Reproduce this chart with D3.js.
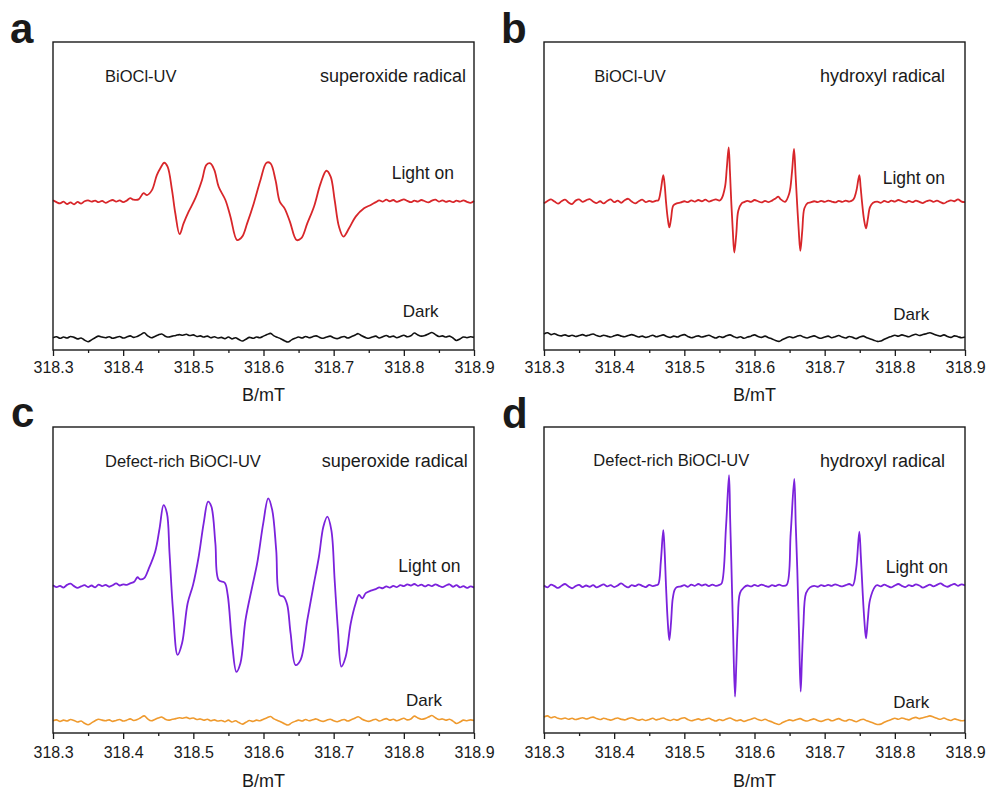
<!DOCTYPE html>
<html><head><meta charset="utf-8">
<script src="https://cdn.jsdelivr.net/npm/d3@7"></script>
<style>
body{margin:0;background:#fff}
svg{display:block}
text{font-family:"Liberation Sans",Arial,Helvetica,sans-serif;fill:#1a1a1a}
</style></head><body>
<svg id="chart" width="992" height="793"></svg>
<script>
// ---------- DATA ----------
const xTicks = [318.3, 318.4, 318.5, 318.6, 318.7, 318.8, 318.9];
const xMinorTicks = [318.35, 318.45, 318.55, 318.65, 318.75, 318.85];
const xLabel = "B/mT";
const panelLetters = ["a", "b", "c", "d"];
const sampleNames = ["BiOCl-UV", "BiOCl-UV", "Defect-rich BiOCl-UV", "Defect-rich BiOCl-UV"];
const radicalNames = ["superoxide radical", "hydroxyl radical", "superoxide radical", "hydroxyl radical"];
const seriesNames = ["Light on", "Dark"];

// magnetic field sampling for the dark traces (mT)
const darkField = [318.300,318.305,318.310,318.315,318.320,318.325,318.330,318.335,318.340,318.345,318.350,318.355,318.360,318.365,318.370,318.375,318.380,318.385,318.390,318.395,
318.400,318.405,318.410,318.415,318.420,318.425,318.430,318.435,318.440,318.445,318.450,318.455,318.460,318.465,318.470,318.475,318.480,318.485,318.490,318.495,
318.500,318.505,318.510,318.515,318.520,318.525,318.530,318.535,318.540,318.545,318.550,318.555,318.560,318.565,318.570,318.575,318.580,318.585,318.590,318.595,
318.600,318.605,318.610,318.615,318.620,318.625,318.630,318.635,318.640,318.645,318.650,318.655,318.660,318.665,318.670,318.675,318.680,318.685,318.690,318.695,
318.700,318.705,318.710,318.715,318.720,318.725,318.730,318.735,318.740,318.745,318.750,318.755,318.760,318.765,318.770,318.775,318.780,318.785,318.790,318.795,
318.800,318.805,318.810,318.815,318.820,318.825,318.830,318.835,318.840,318.845,318.850,318.855,318.860,318.865,318.870,318.875,318.880,318.885,318.890,318.895,318.900];

// dark intensity (a.u.), superoxide trapping (panels a, c)
const darkSuperoxide = [4.0,4.3,3.8,4.2,3.9,4.4, 4.1,3.6,3.9,3.2,2.7,3.3,4.0,
4.5,4.2,4.0,4.3,3.8,4.1,4.4,3.9,4.2,4.6,4.1,4.4, 5.0,5.6,4.6, 4.0,4.4,4.9,5.2,4.5,
4.2,4.5,4.7,5.0,4.8,5.1,4.7,4.9, 4.4,4.6,4.2,4.5,4.0,4.3,3.9,4.1,3.7,4.2,
3.6,4.0,3.4,2.9,3.5,4.1, 3.8,4.2,4.0,4.5,5.0,5.4,4.6,4.1, 3.6,3.0,2.6,3.3,3.8,4.2,3.9,4.4,
4.0,4.3,4.6,4.1,3.8,4.2,4.5,4.0,3.7,4.1,4.4,3.9, 4.3,4.8,5.3,4.6,4.1,3.8,
4.2,4.5,3.9,4.3,4.7,4.2,4.5,4.0,4.4,4.8,4.3,4.6, 5.5,4.9,4.5,4.7, 5.2,5.7,5.0,4.4,
4.6,4.2,4.5,3.9,3.1,3.6,4.2,4.0,4.3,4.1];

// dark intensity (a.u.), hydroxyl trapping (panels b, d)
const darkHydroxyl = [5.2,5.6,5.0,5.3,4.8,4.6,4.9,4.5,4.8,4.4,4.7,5.0,
4.6,4.9,5.2,4.7,4.4,4.8,4.5,4.2,4.6,4.9,4.5,4.3,
4.7,5.0,4.6,4.2,4.5,4.1,4.4,4.8,4.3,4.6,4.9,4.4,
4.1,4.5,4.2,4.7,5.0,4.4,4.0,4.3,4.6,4.2,4.5,4.8,
4.3,3.9,4.4,4.1,4.6,4.9,4.4,4.0,4.3,3.8,4.2,4.5,
4.9,4.4,4.1,4.5,4.0,3.6,3.1,2.8,3.4,3.9,4.3,4.0,
4.4,4.7,4.2,3.9,4.3,4.6,4.1,3.8,4.2,4.5,4.0,4.3,
4.7,4.2,3.9,4.4,4.1,3.7,4.2,4.5,4.0,3.6,3.2,2.8,
2.9,3.5,4.0,4.4,4.8,4.5,4.9,4.6,4.3,4.8,5.1,4.7,
5.0,5.3,5.6,5.2,4.8,4.5,4.9,4.4,4.1,4.6,4.3,4.0,4.2];

// light-on spectra: [B (mT), intensity (a.u.)]
const lightA = [[318.300,48.6],[318.305,48.0],[318.310,47.6],[318.315,48.2],[318.320,47.4],[318.325,47.9],[318.330,47.3],[318.335,48.1],[318.340,47.5],[318.345,48.3],
[318.350,48.6],[318.355,48.2],[318.360,48.5],[318.365,48.0],[318.370,48.4],[318.375,47.8],[318.380,48.3],[318.385,48.7],[318.390,48.2],[318.395,48.6],
[318.400,48.0],[318.405,48.5],[318.410,49.3],[318.415,48.8],[318.422,48.9],[318.429,50.9],[318.434,50.3],[318.441,51.9],[318.448,56.8],[318.453,59.0],
[318.4586,60.8],[318.4633,59.5],[318.4696,51.9],[318.4743,44.4],[318.4804,37.6],[318.4861,41.1],[318.4933,44.9],[318.5029,49.3],[318.5124,55.2],[318.5186,60.1],
[318.5243,60.6],[318.530,58.4],[318.5361,53.0],[318.5457,48.7],[318.5529,43.3],[318.5624,35.7],[318.5696,36.8],[318.5767,41.1],[318.5861,47.6],[318.5957,55.2],
[318.6043,60.8],[318.610,60.6],[318.6171,55.2],[318.6233,48.1],[318.630,46.0],[318.6376,41.7],[318.6471,35.7],[318.6539,36.3],[318.6624,41.1],[318.6719,46.5],
[318.6814,54.1],[318.6896,58.2],[318.6957,56.3],[318.7014,48.7],[318.7076,40.0],[318.7139,36.8],[318.7219,39.5],[318.7314,43.3],[318.7433,46.0],[318.7529,47.1],
[318.760,48.0],[318.765,48.6],[318.770,48.2],[318.775,48.8],[318.780,48.3],[318.785,48.7],[318.790,48.1],[318.795,48.5],[318.800,48.9],[318.805,48.4],
[318.810,48.0],[318.815,48.5],[318.820,48.2],[318.825,48.7],[318.830,48.3],[318.835,47.9],[318.840,48.5],[318.845,48.8],[318.850,48.2],[318.855,48.6],
[318.860,48.1],[318.865,48.4],[318.870,48.0],[318.875,48.5],[318.880,48.2],[318.885,48.6],[318.890,48.1],[318.895,47.8],[318.900,48.4]];

const lightB = [[318.300,47.6],[318.305,48.4],[318.310,48.9],[318.315,48.2],[318.320,47.5],[318.325,48.3],[318.330,48.8],[318.335,47.9],[318.340,47.4],[318.345,48.5],
[318.350,48.9],[318.355,48.1],[318.360,48.6],[318.365,49.0],[318.370,48.2],[318.375,47.7],[318.380,48.3],[318.385,47.6],[318.390,48.4],[318.395,48.9],
[318.400,48.0],[318.405,48.5],[318.410,47.8],[318.415,48.6],[318.420,49.1],[318.425,48.2],[318.430,47.6],[318.435,48.3],[318.440,48.8],[318.445,48.0],
[318.450,48.4],[318.455,48.1],[318.460,48.5],
[318.4629,48.6],[318.4665,52.0],[318.4700,56.8],[318.4720,53.5],[318.4739,48.1],[318.4762,43.0],[318.4786,39.8],[318.4810,42.5],[318.4843,46.9],[318.4891,47.6],
[318.495,47.9],[318.500,48.3],[318.505,48.0],[318.510,48.6],[318.515,48.2],[318.520,48.7],[318.525,48.3],[318.530,48.8],[318.535,48.2],[318.540,48.6],[318.545,48.9],[318.550,48.5],
[318.5532,49.2],[318.5580,53.0],[318.5605,59.0],[318.5632,65.8],[318.5650,58.0],[318.5669,48.1],[318.5690,39.0],[318.5712,31.6],[318.5740,37.5],[318.5769,45.2],[318.5817,47.6],
[318.585,48.0],[318.590,48.4],[318.595,48.1],[318.600,48.7],[318.605,48.3],[318.610,47.9],[318.615,48.4],[318.620,48.0],[318.625,48.5],[318.630,49.2],
[318.6339,49.8],[318.637,49.0],[318.6435,48.1],[318.6496,50.9],[318.6535,58.0],[318.6563,65.3],[318.6585,57.0],[318.6606,48.1],[318.6630,39.0],[318.6653,32.2],[318.6680,38.5],[318.6711,46.0],[318.6758,47.7],
[318.680,47.9],[318.685,48.3],[318.690,48.0],[318.695,48.4],[318.700,48.1],[318.705,48.5],[318.710,48.2],[318.715,47.9],[318.720,48.4],[318.725,48.1],[318.730,48.5],[318.735,48.2],
[318.7408,48.8],[318.7450,51.5],[318.7494,56.8],[318.7512,53.0],[318.7532,48.1],[318.7560,42.5],[318.7589,39.5],[318.7615,42.5],[318.7646,46.4],[318.7690,47.8],
[318.775,48.2],[318.780,47.8],[318.785,48.4],[318.790,48.0],[318.795,48.5],[318.800,48.2],[318.805,48.7],[318.810,48.3],[318.815,47.9],[318.820,48.4],
[318.825,48.0],[318.830,48.5],[318.835,48.1],[318.840,47.7],[318.845,48.3],[318.850,48.6],[318.855,48.1],[318.860,48.5],[318.865,48.0],[318.870,47.6],
[318.875,48.2],[318.880,48.6],[318.885,48.3],[318.890,48.9],[318.895,48.2],[318.900,48.0]];

const lightC = [[318.300,48.3],[318.305,47.7],[318.310,48.1],[318.315,47.5],[318.320,48.4],[318.325,48.8],[318.330,48.0],[318.335,47.4],[318.340,47.9],[318.345,48.3],
[318.350,47.7],[318.355,48.2],[318.360,47.6],[318.365,48.5],[318.370,48.0],[318.375,48.4],[318.380,47.8],[318.385,48.3],[318.390,48.9],[318.395,48.2],
[318.400,48.6],[318.405,48.4],[318.410,48.9],[318.4157,49.4],[318.4204,50.9],[318.4243,50.2],[318.430,50.6],[318.4361,53.5],[318.4457,59.3],[318.4519,66.9],
[318.4576,74.5],[318.4624,71.8],[318.4661,58.7],[318.471,40.2],[318.4776,25.5],[318.4839,29.3],[318.4919,42.4],[318.4996,48.4],[318.5076,57.6],[318.5147,68.5],
[318.521,75.6],[318.5257,74.0],[318.5314,62.0],[318.5361,50.0],[318.5447,49.1],[318.549,45.1],[318.5553,29.3],[318.5614,20.0],[318.5671,22.8],[318.5743,36.9],
[318.5839,47.8],[318.591,55.5],[318.5996,68.5],[318.6067,76.7],[318.6124,72.9],[318.6181,59.8],[318.6229,45.1],[318.629,44.5],[318.6339,41.8],[318.6386,32.6],
[318.6457,22.2],[318.6529,23.9],[318.6624,36.9],[318.671,47.8],[318.679,57.6],[318.6853,67.4],[318.691,70.7],[318.6967,66.3],[318.7014,50.0],[318.7061,33.7],
[318.711,21.7],[318.7171,24.9],[318.7243,35.8],[318.7314,42.4],[318.7361,45.1],[318.741,44.0],[318.7457,45.7],[318.7529,46.5],
[318.760,47.0],[318.765,47.6],[318.770,47.3],[318.775,47.9],[318.780,47.5],[318.785,48.1],[318.790,47.7],[318.795,48.3],[318.800,48.0],[318.805,48.6],
[318.810,48.2],[318.815,48.7],[318.820,48.1],[318.825,48.5],[318.830,47.9],[318.835,48.4],[318.840,48.0],[318.845,48.6],[318.850,48.1],[318.855,47.7],
[318.860,48.2],[318.865,48.6],[318.870,47.8],[318.875,48.3],[318.880,47.6],[318.885,48.0],[318.890,47.4],[318.895,47.9],[318.900,47.5]];

const lightD = [[318.300,48.2],[318.305,47.6],[318.310,48.5],[318.315,48.0],[318.320,47.4],[318.325,48.1],[318.330,48.7],[318.335,47.9],[318.340,47.3],[318.345,48.0],
[318.350,48.4],[318.355,47.7],[318.360,48.2],[318.365,47.8],[318.370,48.3],[318.375,47.6],[318.380,48.1],[318.385,48.6],[318.390,47.9],[318.395,48.3],
[318.400,47.7],[318.405,48.2],[318.410,48.9],[318.415,48.1],[318.420,47.6],[318.425,48.3],[318.430,48.0],[318.435,48.6],[318.440,48.1],[318.445,47.7],
[318.450,48.4],[318.455,48.0],[318.460,48.3],
[318.4629,48.6],[318.4665,56.0],[318.4700,66.3],[318.4718,60.0],[318.4739,48.0],[318.4762,37.0],[318.4786,30.4],[318.4810,36.0],[318.4834,43.8],[318.4862,46.8],[318.4891,47.6],
[318.495,47.9],[318.500,48.3],[318.505,47.8],[318.510,48.5],[318.515,48.1],[318.520,48.7],[318.525,48.2],[318.530,48.6],[318.535,48.0],[318.540,48.5],[318.545,48.1],[318.550,48.4],
[318.5532,48.9],[318.5594,67.4],[318.5637,84.3],[318.5653,70.0],[318.5669,56.5],[318.5695,33.0],[318.5722,11.9],[318.5740,22.0],[318.5760,34.7],[318.5793,45.7],[318.5850,47.6],
[318.590,48.2],[318.595,47.9],[318.600,48.4],[318.605,48.0],[318.610,48.5],[318.615,48.1],[318.620,47.8],[318.625,48.3],[318.630,48.0],[318.635,48.5],[318.640,48.1],
[318.6459,48.4],[318.6516,65.3],[318.6567,83.0],[318.6588,68.0],[318.6610,53.3],[318.6635,32.0],[318.6658,13.5],[318.6676,24.0],[318.6696,34.7],[318.6734,45.7],[318.6791,47.6],
[318.685,48.1],[318.690,47.8],[318.695,48.3],[318.700,48.0],[318.705,48.4],[318.710,48.1],[318.715,48.6],[318.720,48.2],[318.725,47.9],[318.730,48.3],[318.735,48.7],[318.740,48.2],
[318.7450,54.0],[318.7494,65.8],[318.7515,58.0],[318.7542,45.7],[318.7565,37.0],[318.7589,30.9],[318.7615,37.0],[318.7646,43.5],[318.7717,47.8],
[318.775,48.3],[318.780,47.9],[318.785,48.5],[318.790,48.0],[318.795,47.6],[318.800,48.2],[318.805,48.7],[318.810,48.1],[318.815,47.7],[318.820,48.3],
[318.825,48.0],[318.830,48.6],[318.835,48.2],[318.840,47.5],[318.845,48.0],[318.850,48.5],[318.855,47.9],[318.860,48.4],[318.865,48.9],[318.870,48.2],
[318.875,47.8],[318.880,48.3],[318.885,48.7],[318.890,48.1],[318.895,48.6],[318.900,48.2]];

// ---------- LAYOUT / STYLE ----------
const RED = "#d8262a", PURPLE = "#7b22dc", ORANGE = "#ef9a2e", BLACK = "#111";
const panels = [
  {i:0, left:53, right:474, top:42, bottom:350, light:lightA, dark:darkSuperoxide, lc:RED, dc:BLACK,
   letter:[10,43], sample:[105,82], radical:[320,82], lightLbl:[391.7,179], darkLbl:[402.7,316.7], tickY:23, xlabY:51},
  {i:1, left:544, right:965, top:42, bottom:350, light:lightB, dark:darkHydroxyl, lc:RED, dc:BLACK,
   letter:[501,43], sample:[594.3,82], radical:[820,82], lightLbl:[882.7,184], darkLbl:[893.3,320], tickY:23, xlabY:51},
  {i:2, left:53, right:474, top:427, bottom:733, light:lightC, dark:darkSuperoxide, lc:PURPLE, dc:ORANGE,
   letter:[11,427], sample:[105,467], radical:[321.7,467], lightLbl:[398.3,571.7], darkLbl:[406,706], tickY:25, xlabY:54},
  {i:3, left:544, right:965, top:427, bottom:733, light:lightD, dark:darkHydroxyl, lc:PURPLE, dc:ORANGE,
   letter:[502,428], sample:[593.3,466], radical:[820,467], lightLbl:[885.7,573.3], darkLbl:[893.3,708.3], tickY:25, xlabY:54}
];

const svg = d3.select("#chart");

panels.forEach(p => {
  const x = d3.scaleLinear().domain([318.3, 318.9]).range([p.left, p.right]);
  const y = d3.scaleLinear().domain([0, 100]).range([p.bottom, p.top]);
  const g = svg.append("g");

  const line = d3.line().x(d => x(d[0])).y(d => y(d[1])).curve(d3.curveCatmullRom.alpha(0.5));

  // dark trace
  const darkPts = darkField.map((b, k) => [b, p.dark[k]]);
  g.append("path").datum(darkPts).attr("d", line)
    .attr("fill", "none").attr("stroke", p.dc).attr("stroke-width", 1.6).attr("stroke-linejoin", "round");
  // light-on trace
  g.append("path").datum(p.light).attr("d", line)
    .attr("fill", "none").attr("stroke", p.lc).attr("stroke-width", 1.8).attr("stroke-linejoin", "round");

  // frame
  g.append("rect").attr("x", p.left).attr("y", p.top)
    .attr("width", p.right - p.left).attr("height", p.bottom - p.top)
    .attr("fill", "none").attr("stroke", "#1a1a1a").attr("stroke-width", 1.4);

  // minor ticks
  const minor = g.append("g").attr("transform", `translate(0,${p.bottom})`)
    .call(d3.axisBottom(x).tickValues(xMinorTicks).tickSize(3).tickFormat(""));
  minor.select(".domain").remove();
  minor.selectAll("line").attr("stroke", "#1a1a1a").attr("stroke-width", 1.3);

  // major ticks
  const ax = g.append("g").attr("transform", `translate(0,${p.bottom})`)
    .call(d3.axisBottom(x).tickValues(xTicks).tickSize(6).tickPadding(6).tickFormat(d3.format(".1f")));
  ax.select(".domain").remove();
  ax.selectAll("line").attr("stroke", "#1a1a1a").attr("stroke-width", 1.3);
  ax.selectAll("text").attr("font-size", 16).attr("font-family", '"Liberation Sans",Arial,sans-serif')
    .attr("fill", "#1a1a1a").attr("dy", null).attr("y", p.tickY);

  // axis title
  g.append("text").attr("x", (p.left + p.right) / 2).attr("y", p.bottom + p.xlabY)
    .attr("text-anchor", "middle").attr("font-size", 18).text(xLabel);

  // panel letter
  g.append("text").attr("x", p.letter[0]).attr("y", p.letter[1])
    .attr("font-size", 42).attr("font-weight", "bold").attr("fill", "#000").text(panelLetters[p.i]);

  // annotations
  g.append("text").attr("x", p.sample[0]).attr("y", p.sample[1]).attr("font-size", 16.5).text(sampleNames[p.i]);
  g.append("text").attr("x", p.radical[0]).attr("y", p.radical[1]).attr("font-size", 18).text(radicalNames[p.i]);
  g.append("text").attr("x", p.lightLbl[0]).attr("y", p.lightLbl[1]).attr("font-size", 17.5).text(seriesNames[0]);
  g.append("text").attr("x", p.darkLbl[0]).attr("y", p.darkLbl[1]).attr("font-size", 17).text(seriesNames[1]);
});
</script>
</body></html>
